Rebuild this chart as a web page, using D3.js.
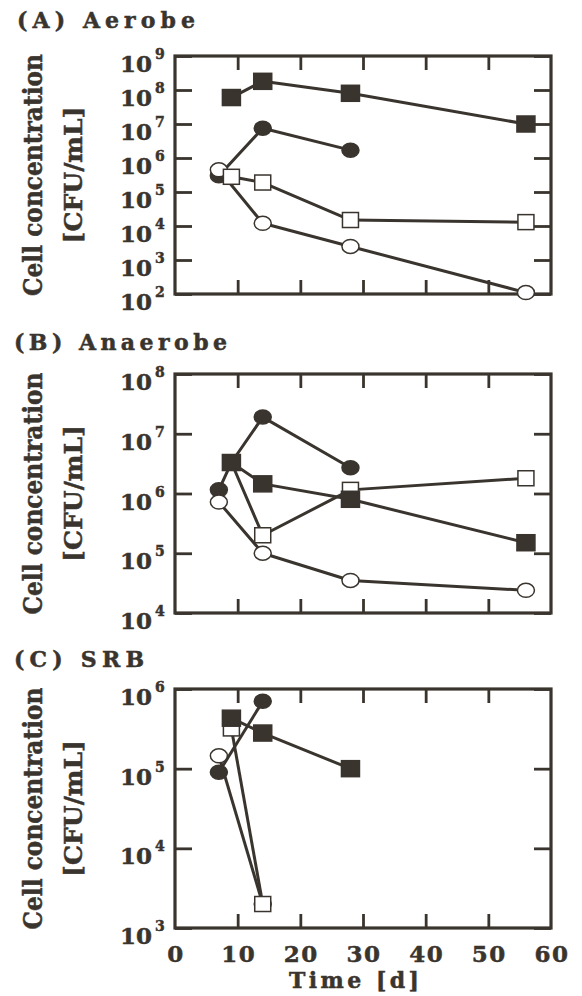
<!DOCTYPE html>
<html lang="en">
<head>
<meta charset="UTF-8">
<title>Cell concentration</title>
<script src="https://d3js.org/d3.v7.min.js"></script>
<style>
    body { margin: 0; background: #fff; }
    svg { display: block; }
    .lab {
        font-family: "DejaVu Serif", serif;
        font-weight: bold;
        fill: #3a342e;
        stroke: #3a342e;
        stroke-width: 0.5;
    }
</style>
</head>
<body>
<svg id="chart" width="582" height="996"></svg>
<script>
// x axis (days)
const xTicks = [0, 10, 20, 30, 40, 50, 60];

// (A) Aerobe  [day, CFU/mL]
const aFilledSq = [[9, 6e7], [14, 1.8e8], [28, 8e7], [56, 1e7]];
const aFilledCi = [[7, 3e5], [14, 7.5e6], [28, 1.7e6]];
const aOpenSq   = [[9, 2.8e5], [14, 1.9e5], [28, 1.5e4], [56, 1.3e4]];
const aOpenCi   = [[7, 4.5e5], [14, 1.2e4], [28, 2.5e3], [56, 1.1e2]];

// (B) Anaerobe
const bFilledSq = [[9, 3.3e6], [14, 1.45e6], [28, 8e5], [56, 1.5e5]];
const bFilledCi = [[7, 1.15e6], [9, 3.3e6], [14, 1.9e7], [28, 2.7e6]];
const bOpenSq   = [[9, 3.3e6], [14, 2e5], [28, 1.15e6], [56, 1.8e6]];
const bOpenCi   = [[7, 7.2e5], [14, 1e5], [28, 3.5e4], [56, 2.4e4]];

// (C) SRB
const cFilledSq = [[9, 4.3e5], [14, 2.8e5], [28, 1e5]];
const cFilledCi = [[7, 9e4], [14, 7e5]];
const cOpenSq   = [[9, 3.2e5], [14, 2e3]];
const cOpenCi   = [[7, 1.45e5], [14, 2e3]];

const panels = [
    { title: "(A) Aerobe", titleX: 17, titleY: 28, titleLen: 178,
      top: 56, bottom: 294, exps: [2, 9],
      fs: aFilledSq, fc: aFilledCi, os: aOpenSq, oc: aOpenCi },
    { title: "(B) Anaerobe", titleX: 14, titleY: 350, titleLen: 213,
      top: 374, bottom: 613, exps: [4, 8],
      fs: bFilledSq, fc: bFilledCi, os: bOpenSq, oc: bOpenCi },
    { title: "(C) SRB", titleX: 14, titleY: 667, titleLen: 130,
      top: 689, bottom: 928, exps: [3, 6],
      fs: cFilledSq, fc: cFilledCi, os: cOpenSq, oc: cOpenCi }
];

const ink = "#3a342e";
const svg = d3.select("#chart");
const x = d3.scaleLinear().domain([0, 60]).range([175, 551]);

panels.forEach(function(p, pi) {
    const y = d3.scaleLog()
        .domain([Math.pow(10, p.exps[0]), Math.pow(10, p.exps[1])])
        .range([p.bottom, p.top]);
    const decades = d3.range(p.exps[0], p.exps[1] + 1);
    const yVals = decades.map(e => Math.pow(10, e));
    const g = svg.append("g");

    // title
    g.append("text").attr("class", "lab")
        .attr("x", p.titleX).attr("y", p.titleY)
        .attr("font-size", 22)
        .attr("textLength", p.titleLen).attr("lengthAdjust", "spacing")
        .text(p.title);

    // y axis title
    const cy = (p.top + p.bottom) / 2;
    g.append("text").attr("class", "lab")
        .attr("transform", `translate(42,${cy}) rotate(-90)`)
        .attr("text-anchor", "middle").attr("font-size", 26)
        .attr("textLength", 242).attr("lengthAdjust", "spacingAndGlyphs")
        .text("Cell concentration");
    g.append("text").attr("class", "lab")
        .attr("transform", `translate(82,${cy}) rotate(-90)`)
        .attr("text-anchor", "middle").attr("font-size", 25)
        .attr("textLength", 137).attr("lengthAdjust", "spacingAndGlyphs")
        .text("[CFU/mL]");

    // inner ticks on all four sides
    const inner = xTicks.slice(1, -1);
    const axes = [
        [d3.axisLeft(y).tickValues(yVals).tickSize(-17), `translate(${x(0)},0)`],
        [d3.axisRight(y).tickValues(yVals).tickSize(-17), `translate(${x(60)},0)`],
        [d3.axisBottom(x).tickValues(inner).tickSize(-14), `translate(0,${p.bottom})`],
        [d3.axisTop(x).tickValues(inner).tickSize(-14), `translate(0,${p.top})`]
    ];
    axes.forEach(function(a) {
        const ax = g.append("g").attr("transform", a[1])
            .call(a[0].tickSizeOuter(0).tickFormat(""));
        ax.select(".domain").remove();
        ax.selectAll("line").attr("stroke", ink).attr("stroke-width", 2.8);
    });

    // frame
    g.append("rect")
        .attr("x", x(0)).attr("y", p.top)
        .attr("width", x(60) - x(0)).attr("height", p.bottom - p.top)
        .attr("fill", "none").attr("stroke", ink).attr("stroke-width", 3.2);

    // y tick labels 10^n
    decades.forEach(function(e) {
        const ty = y(Math.pow(10, e));
        g.append("text").attr("class", "lab")
            .attr("x", 152).attr("y", ty + 16)
            .attr("text-anchor", "end").attr("font-size", 23)
            .text("10");
        g.append("text").attr("class", "lab")
            .attr("x", 155).attr("y", ty + 3)
            .attr("font-size", 14)
            .text(e);
    });

    // x tick labels only on last panel
    if (pi === panels.length - 1) {
        xTicks.forEach(function(t) {
            g.append("text").attr("class", "lab")
                .attr("x", x(t) + 1).attr("y", p.bottom + 34)
                .attr("text-anchor", "middle").attr("font-size", 23)
                .attr("letter-spacing", 1.5)
                .text(t);
        });
        g.append("text").attr("class", "lab")
            .attr("x", 354).attr("y", p.bottom + 60)
            .attr("text-anchor", "middle").attr("font-size", 22)
            .attr("textLength", 130).attr("lengthAdjust", "spacing")
            .text("Time [d]");
    }

    // lines
    const line = d3.line().x(d => x(d[0])).y(d => y(d[1]));
    [p.oc, p.os, p.fs, p.fc].forEach(function(s) {
        g.append("path").datum(s)
            .attr("d", line)
            .attr("fill", "none").attr("stroke", ink)
            .attr("stroke-width", 3).attr("stroke-linejoin", "round");
    });

    // markers
    function circles(s, filled) {
        g.selectAll(null).data(s).enter().append("ellipse")
            .attr("cx", d => x(d[0])).attr("cy", d => y(d[1]))
            .attr("rx", 8.5).attr("ry", 7)
            .attr("fill", filled ? ink : "#fff")
            .attr("stroke", ink).attr("stroke-width", 1.5);
    }
    function squares(s, filled) {
        const w = filled ? 18 : 16, h = filled ? 16 : 15;
        g.selectAll(null).data(s).enter().append("rect")
            .attr("x", d => x(d[0]) - w / 2).attr("y", d => y(d[1]) - h / 2)
            .attr("width", w).attr("height", h)
            .attr("fill", filled ? ink : "#fff")
            .attr("stroke", ink).attr("stroke-width", 1.5);
    }
    circles(p.fc, true);
    circles(p.oc, false);
    squares(p.os, false);
    squares(p.fs, true);
});
</script>
</body>
</html>
